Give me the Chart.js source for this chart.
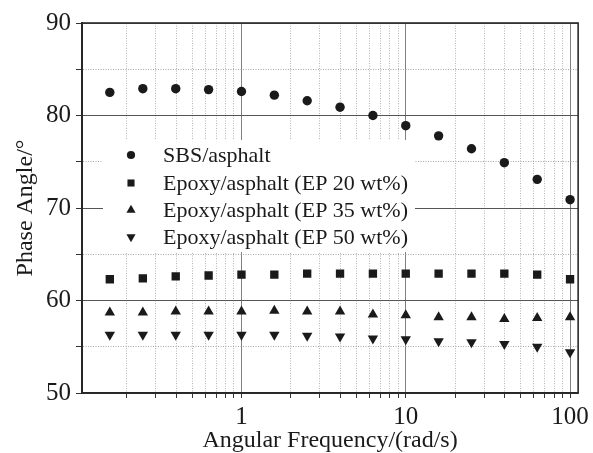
<!DOCTYPE html>
<html>
<head>
<meta charset="utf-8">
<script src="https://cdn.jsdelivr.net/npm/chart.js@4.4.1/dist/chart.umd.min.js"></script>
<style>
  html, body { margin: 0; padding: 0; background: #fff; }
</style>
</head>
<body>
<canvas id="chart-phase" width="593" height="453"></canvas>
<script>
// angular frequency (rad/s)
const frequencies = [0.158, 0.251, 0.398, 0.631, 1, 1.585, 2.512, 3.981, 6.31, 10, 15.85, 25.12, 39.81, 63.1, 100];

// phase angle (deg) per binder
const sbsAsphalt = [82.5, 82.9, 82.9, 82.8, 82.6, 82.2, 81.6, 80.9, 80.0, 78.9, 77.8, 76.4, 74.9, 73.1, 70.9];
const epoxy20 = [62.3, 62.4, 62.6, 62.7, 62.8, 62.8, 62.9, 62.9, 62.9, 62.9, 62.9, 62.9, 62.9, 62.8, 62.3];
const epoxy35 = [58.7, 58.7, 58.8, 58.8, 58.8, 58.9, 58.8, 58.8, 58.5, 58.4, 58.2, 58.2, 58.0, 58.1, 58.2];
const epoxy50 = [56.3, 56.3, 56.3, 56.3, 56.3, 56.3, 56.2, 56.1, 55.9, 55.8, 55.6, 55.5, 55.3, 55.0, 54.4];

const seriesLabels = ['SBS/asphalt', 'Epoxy/asphalt (EP 20 wt%)', 'Epoxy/asphalt (EP 35 wt%)', 'Epoxy/asphalt (EP 50 wt%)'];

const xTickLabels = [1, 10, 100];
const yTickLabels = [50, 60, 70, 80, 90];

// log grid: 0.2..0.9, 1..9, 10..90, 100
const xGridValues = [];
[0.1, 1, 10].forEach(function (dec) {
  for (let k = 1; k <= 9; k++) {
    const v = +(k * dec).toFixed(2);
    if (v >= 0.15) xGridValues.push(v);
  }
});
xGridValues.push(100);

const SERIF = '"Liberation Serif", "Times New Roman", serif';
const INK = '#1a1a1a';

function toPoints(values) {
  return values.map(function (v, i) { return { x: frequencies[i], y: v }; });
}

const markerStyles = [
  { pointStyle: 'circle', radius: 4.7, rotation: 0, legendRadius: 4.1 },
  { pointStyle: 'rect', radius: 5.9, rotation: 0, legendRadius: 5.0 },
  { pointStyle: 'triangle', radius: 6.0, rotation: 0, legendRadius: 5.3 },
  { pointStyle: 'triangle', radius: 6.0, rotation: 180, legendRadius: 5.3 }
];

const allSeries = [sbsAsphalt, epoxy20, epoxy35, epoxy50];

const datasets = allSeries.map(function (vals, i) {
  return {
    label: seriesLabels[i],
    data: toPoints(vals),
    pointStyle: markerStyles[i].pointStyle,
    pointRadius: markerStyles[i].radius,
    pointRotation: markerStyles[i].rotation,
    pointBackgroundColor: INK,
    pointBorderColor: INK,
    pointBorderWidth: 0,
    showLine: false
  };
});

// white legend box sitting over the grid, drawn before the points
const boxedLegend = {
  id: 'boxedLegend',
  beforeDatasetsDraw(chart) {
    const ctx = chart.ctx;
    const rows = [155, 183, 210, 237];
    ctx.save();
    ctx.fillStyle = '#fff';
    ctx.fillRect(103, 140, 312, 112);
    ctx.fillStyle = INK;
    ctx.strokeStyle = INK;
    ctx.font = '22px ' + SERIF;
    ctx.textBaseline = 'middle';
    ctx.textAlign = 'left';
    chart.data.datasets.forEach(function (ds, i) {
      Chart.helpers.drawPoint(ctx, {
        pointStyle: ds.pointStyle,
        radius: markerStyles[i].legendRadius,
        rotation: ds.pointRotation,
        borderWidth: 0
      }, 131, rows[i]);
      ctx.fillText(ds.label, 163, rows[i] + 1);
    });
    ctx.restore();
  }
};

// closed frame round the plot
const frame = {
  id: 'frame',
  afterDraw(chart) {
    const a = chart.chartArea;
    const ctx = chart.ctx;
    ctx.save();
    ctx.strokeStyle = '#2a2a2a';
    ctx.lineWidth = 1.6;
    ctx.strokeRect(a.left, a.top, a.right - a.left, a.bottom - a.top);
    ctx.restore();
  }
};

const ctx = document.getElementById('chart-phase').getContext('2d');

new Chart(ctx, {
  type: 'scatter',
  data: { datasets: datasets },
  options: {
    responsive: false,
    animation: false,
    layout: { padding: { top: 23, right: 12, left: 0, bottom: 0 } },
    plugins: {
      legend: { display: false },
      tooltip: { enabled: false }
    },
    scales: {
      x: {
        type: 'logarithmic',
        min: 0.107,
        max: 112,
        afterBuildTicks(scale) {
          scale.ticks = xGridValues.map(function (v) {
            return { value: v, major: xTickLabels.indexOf(v) >= 0 };
          });
        },
        afterFit(scale) { scale.height = 60; },
        ticks: {
          autoSkip: false,
          maxRotation: 0,
          padding: 4,
          color: INK,
          font: { family: SERIF, size: 25 },
          callback: function (value) {
            return xTickLabels.indexOf(value) >= 0 ? String(value) : '';
          }
        },
        grid: {
          tickLength: 5,
          lineWidth: 1,
          color: function (c) {
            const v = c.tick && c.tick.value;
            return xTickLabels.indexOf(v) >= 0 ? '#808080' : '#b4b4b4';
          },
          tickColor: '#333'
        },
        border: {
          color: '#1a1a1a',
          width: 1.6,
          dash: function (c) {
            if (!c.tick) return [];
            return xTickLabels.indexOf(c.tick.value) >= 0 ? [] : [1, 1.5];
          }
        },
        title: {
          display: true,
          text: 'Angular Frequency/(rad/s)',
          color: INK,
          font: { family: SERIF, size: 24, lineHeight: 1 },
          padding: { top: 0, bottom: 0 }
        }
      },
      y: {
        min: 50,
        max: 90,
        afterFit(scale) { scale.width = 82; },
        ticks: {
          stepSize: 5,
          padding: 5,
          color: INK,
          font: { family: SERIF, size: 25 },
          callback: function (value) {
            return yTickLabels.indexOf(value) >= 0 ? String(value) : '';
          }
        },
        grid: {
          tickLength: 6,
          lineWidth: 1,
          color: function (c) {
            const v = c.tick && c.tick.value;
            return yTickLabels.indexOf(v) >= 0 ? '#555' : '#a8a8a8';
          },
          tickColor: '#333'
        },
        border: {
          color: '#1a1a1a',
          width: 2,
          dash: function (c) {
            if (!c.tick) return [];
            return yTickLabels.indexOf(c.tick.value) >= 0 ? [] : [1, 1.5];
          }
        },
        title: {
          display: true,
          text: 'Phase Angle/°',
          color: INK,
          font: { family: SERIF, size: 24, lineHeight: 1 },
          padding: { top: 14, bottom: 0 }
        }
      }
    }
  },
  plugins: [boxedLegend, frame]
});
</script>
</body>
</html>
